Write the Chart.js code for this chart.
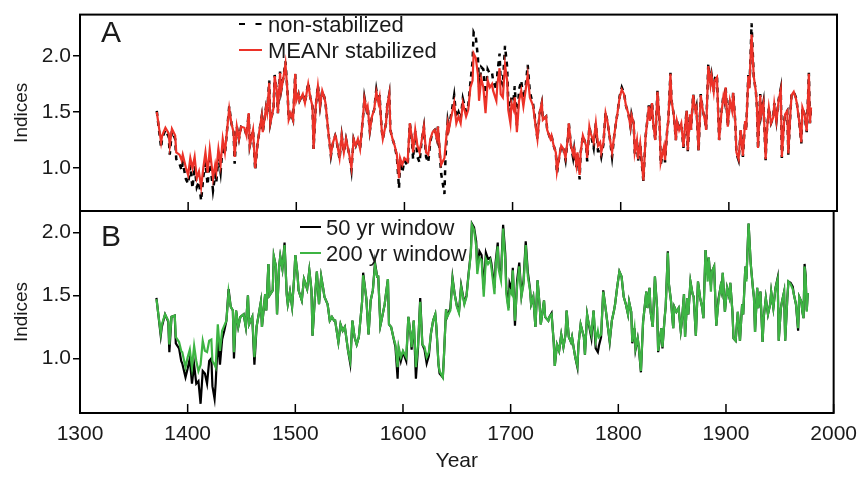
<!DOCTYPE html>
<html>
<head>
<meta charset="utf-8">
<script src="https://cdn.jsdelivr.net/npm/chart.js@4.4.1/dist/chart.umd.min.js"></script>
<style>
html,body{margin:0;padding:0;background:#fff;}
#wrap{position:relative;width:866px;height:479px;}
canvas{position:absolute;left:0;top:0;}
</style>
</head>
<body>
<div id="wrap">
<canvas id="chartA" width="866" height="479"></canvas>
<canvas id="chartB" width="866" height="479"></canvas>
</div>
<script>
// years (shared by all four series)
const years = [
1371,1375,1376,1379,1382,1383,1385,1388,1389,1392,
1394,1395,1398,1400,1402,1404,1406,1408,1410,1412,
1414,1416,1418,1420,1422,1423,1425,1426,1428,1430,
1432,1434,1436,1438,1440,1442,1443,1445,1447,1449,
1452,1454,1456,1457,1460,1462,1464,1466,1468,1469,
1472,1473,1475,1476,1479,1480,1482,1483,1485,1486,
1488,1490,1492,1493,1495,1497,1499,1500,1502,1503,
1506,1508,1511,1513,1515,1516,1518,1520,1522,1524,
1526,1527,1530,1532,1534,1536,1537,1540,1542,1544,
1546,1549,1551,1553,1555,1557,1559,1562,1563,1565,
1566,1568,1570,1572,1574,1576,1577,1579,1580,1583,
1584,1586,1587,1589,1591,1593,1595,1596,1598,1600,
1603,1605,1607,1608,1610,1612,1614,1616,1618,1620,
1622,1624,1626,1628,1630,1631,1633,1634,1637,1638,
1640,1641,1644,1646,1648,1650,1652,1654,1657,1659,
1661,1663,1664,1666,1668,1669,1671,1673,1675,1677,
1679,1681,1682,1685,1686,1688,1689,1691,1693,1695,
1696,1698,1699,1701,1702,1704,1706,1708,1710,1712,
1714,1716,1718,1719,1721,1723,1725,1727,1728,1731,
1732,1735,1736,1738,1740,1741,1743,1745,1747,1749,
1751,1752,1754,1756,1757,1759,1760,1762,1763,1765,
1768,1769,1771,1772,1775,1777,1779,1781,1782,1784,
1786,1788,1790,1792,1794,1796,1797,1799,1801,1803,
1805,1807,1809,1810,1812,1813,1815,1816,1818,1819,
1821,1823,1824,1826,1827,1829,1830,1832,1834,1836,
1837,1840,1841,1843,1844,1846,1847,1849,1851,1852,
1854,1856,1858,1859,1861,1862,1864,1865,1867,1869,
1870,1872,1874,1876,1878,1879,1881,1883,1884,1886,
1887,1889,1891,1893,1895,1896,1897,1899,1901,1903,
1904,1906,1907,1909,1911,1913,1915,1916,1918,1919,
1920,1921,1923,1925,1926,1927,1929,1930,1932,1934,
1935,1937,1939,1941,1942,1944,1946,1948,1949,1951,
1952,1954,1955,1957,1958,1960,1962,1963,1965,1967,
1968,1970,1971,1972,1973,1974,1975,1976
];

// panel A
const meanrStabilized = [
1.50,1.23,1.29,1.36,1.31,1.20,1.35,1.29,1.14,1.12,
1.07,1.12,1.00,0.94,1.09,1.00,1.10,0.91,0.97,0.83,
1.00,1.14,0.96,1.17,1.00,0.91,1.03,0.97,1.17,1.03,
1.26,1.14,1.34,1.53,1.40,1.32,1.10,1.37,1.26,1.37,
1.36,1.29,1.49,1.20,1.34,1.00,1.20,1.34,1.46,1.32,
1.54,1.49,1.76,1.40,1.54,1.82,1.69,1.49,1.85,1.69,
1.80,1.93,1.66,1.43,1.49,1.43,1.84,1.60,1.66,1.60,
1.66,1.58,1.75,1.63,1.55,1.17,1.55,1.73,1.55,1.69,
1.63,1.58,1.29,1.12,1.23,1.29,1.26,1.09,1.29,1.14,
1.26,1.12,1.00,1.26,1.20,1.26,1.17,1.49,1.62,1.52,
1.55,1.33,1.46,1.52,1.68,1.58,1.63,1.34,1.26,1.40,
1.55,1.66,1.34,1.26,1.20,1.12,0.91,1.09,1.03,1.09,
1.06,1.40,1.26,1.14,1.34,1.20,1.14,1.25,1.37,1.14,
1.12,1.26,1.32,1.34,1.26,1.37,1.12,1.03,1.09,1.20,
1.40,1.34,1.49,1.58,1.40,1.46,1.40,1.58,1.46,1.52,
1.72,1.78,2.02,1.98,1.83,1.60,1.80,1.72,1.49,1.78,
1.72,1.75,1.69,1.60,1.75,1.89,1.66,1.63,1.92,1.78,
1.52,1.40,1.58,1.52,1.63,1.32,1.60,1.69,1.55,1.69,
1.83,1.63,1.58,1.55,1.40,1.26,1.49,1.58,1.43,1.46,
1.34,1.26,1.29,1.20,1.14,0.97,1.09,1.20,1.17,1.09,
1.26,1.40,1.20,1.12,1.17,1.03,1.14,0.94,1.14,1.29,
1.20,1.09,1.37,1.32,1.23,1.40,1.20,1.23,1.14,1.23,
1.49,1.40,1.26,1.14,1.29,1.43,1.49,1.63,1.70,1.66,
1.55,1.49,1.37,1.47,1.40,1.14,1.25,1.08,1.22,1.11,
0.89,1.28,1.37,1.55,1.42,1.58,1.40,1.25,1.68,1.40,
1.05,1.19,1.07,1.34,1.42,1.84,1.60,1.48,1.25,1.42,
1.34,1.40,1.19,1.31,1.51,1.16,1.48,1.34,1.65,1.51,
1.54,1.16,1.65,1.51,1.42,1.34,1.91,1.74,1.82,1.68,
1.78,1.81,1.25,1.48,1.64,1.60,1.72,1.37,1.60,1.51,
1.67,1.40,1.14,1.08,1.34,1.11,1.42,1.34,1.82,1.71,
1.97,2.19,1.82,1.68,1.54,1.18,1.65,1.48,1.58,1.08,
1.31,1.54,1.40,1.45,1.57,1.42,1.60,1.70,1.10,1.40,
1.48,1.51,1.13,1.51,1.65,1.68,1.62,1.57,1.42,1.23,
1.54,1.48,1.40,1.33,1.57,1.84,1.40,1.54
];
const nonStabilized = [
1.51,1.18,1.27,1.34,1.28,1.12,1.33,1.26,1.08,1.04,
0.98,1.05,0.90,0.86,1.02,0.82,1.02,0.83,0.88,0.71,
0.92,1.05,0.85,1.08,0.90,0.80,0.94,0.87,1.10,0.96,
1.20,1.12,1.34,1.55,1.40,1.32,1.04,1.37,1.26,1.37,
1.36,1.29,1.49,1.20,1.34,0.98,1.20,1.34,1.46,1.32,
1.54,1.49,1.78,1.40,1.54,1.83,1.69,1.49,1.86,1.69,
1.80,1.95,1.66,1.43,1.49,1.43,1.84,1.60,1.66,1.60,
1.66,1.58,1.76,1.63,1.55,1.17,1.55,1.74,1.55,1.69,
1.63,1.58,1.29,1.11,1.23,1.29,1.26,1.08,1.29,1.14,
1.26,1.12,0.98,1.26,1.20,1.26,1.17,1.49,1.63,1.52,
1.55,1.33,1.46,1.52,1.70,1.58,1.65,1.34,1.26,1.40,
1.55,1.66,1.34,1.26,1.20,1.10,0.82,1.06,0.96,1.07,
1.02,1.40,1.24,1.08,1.33,1.10,1.05,1.25,1.37,1.10,
1.05,1.24,1.32,1.34,1.26,1.37,1.08,0.95,0.77,1.10,
1.42,1.36,1.52,1.65,1.45,1.50,1.44,1.62,1.50,1.56,
1.76,1.95,2.21,2.17,1.98,1.72,1.90,1.88,1.62,1.88,
1.84,1.85,1.78,1.70,1.85,2.02,1.78,1.74,2.09,1.90,
1.60,1.50,1.65,1.62,1.73,1.38,1.70,1.78,1.62,1.72,
1.92,1.68,1.60,1.57,1.42,1.26,1.49,1.58,1.43,1.46,
1.34,1.26,1.29,1.20,1.14,0.95,1.09,1.20,1.17,1.07,
1.26,1.40,1.20,1.09,1.17,1.01,1.14,0.90,1.14,1.29,
1.20,1.06,1.37,1.32,1.18,1.40,1.15,1.15,1.10,1.21,
1.50,1.40,1.26,1.10,1.29,1.43,1.49,1.64,1.72,1.67,
1.55,1.49,1.37,1.48,1.40,1.13,1.25,1.06,1.22,1.09,
0.88,1.28,1.37,1.56,1.42,1.59,1.40,1.25,1.69,1.40,
1.03,1.19,1.05,1.34,1.42,1.85,1.60,1.48,1.25,1.42,
1.34,1.40,1.18,1.31,1.52,1.15,1.48,1.34,1.66,1.51,
1.55,1.15,1.66,1.51,1.42,1.34,1.93,1.76,1.83,1.68,
1.80,1.83,1.25,1.49,1.65,1.60,1.73,1.37,1.61,1.51,
1.68,1.40,1.13,1.07,1.34,1.10,1.42,1.34,1.83,1.71,
1.98,2.29,1.82,1.68,1.54,1.17,1.66,1.48,1.59,1.07,
1.31,1.54,1.40,1.45,1.58,1.42,1.61,1.71,1.09,1.40,
1.48,1.51,1.12,1.51,1.66,1.68,1.63,1.57,1.42,1.22,
1.54,1.48,1.40,1.32,1.58,1.85,1.40,1.54
];

// panel B
const window200 = [
1.47,1.20,1.27,1.35,1.30,1.11,1.33,1.34,1.17,1.13,
1.06,1.05,0.93,1.01,1.07,0.93,1.10,0.98,0.90,0.95,
1.14,1.06,1.05,1.14,1.15,0.98,0.95,0.93,1.27,1.06,
1.22,1.26,1.30,1.53,1.41,1.38,1.05,1.38,1.25,1.33,
1.35,1.25,1.50,1.27,1.33,1.01,1.25,1.35,1.45,1.25,
1.51,1.38,1.75,1.50,1.54,1.81,1.73,1.35,1.73,1.81,
1.71,1.90,1.51,1.43,1.53,1.41,1.65,1.82,1.67,1.54,
1.46,1.63,1.55,1.70,1.54,1.18,1.46,1.69,1.43,1.65,
1.55,1.49,1.43,1.30,1.33,1.30,1.30,1.13,1.27,1.22,
1.25,1.06,0.98,1.30,1.17,1.11,1.17,1.45,1.66,1.54,
1.47,1.19,1.46,1.54,1.74,1.65,1.65,1.26,1.30,1.43,
1.50,1.63,1.27,1.25,1.17,1.11,0.93,1.09,1.01,1.06,
1.01,1.33,1.19,1.09,1.30,0.93,1.11,1.45,1.11,1.09,
1.01,1.05,1.20,1.30,1.35,1.25,0.95,0.90,0.85,1.01,
1.39,1.33,1.38,1.63,1.51,1.41,1.36,1.57,1.43,1.49,
1.67,1.83,2.06,2.02,1.89,1.67,1.80,1.78,1.49,1.79,
1.75,1.78,1.73,1.51,1.73,1.89,1.70,1.62,2.03,1.78,
1.51,1.38,1.54,1.51,1.70,1.30,1.57,1.73,1.49,1.59,
1.90,1.65,1.54,1.43,1.49,1.25,1.62,1.41,1.27,1.46,
1.33,1.30,1.33,1.35,1.13,0.94,1.11,1.06,1.19,1.09,
1.19,1.38,1.17,1.13,1.17,1.06,1.01,0.94,1.11,1.27,
1.17,1.03,1.35,1.30,1.19,1.38,1.14,1.22,1.17,1.19,
1.53,1.41,1.27,1.14,1.30,1.38,1.43,1.57,1.69,1.65,
1.49,1.43,1.35,1.45,1.37,1.13,1.24,1.08,1.16,1.10,
0.90,1.29,1.37,1.53,1.40,1.56,1.37,1.25,1.65,1.40,
1.06,1.24,1.09,1.32,1.41,1.84,1.59,1.45,1.24,1.41,
1.37,1.40,1.22,1.29,1.51,1.17,1.48,1.35,1.61,1.51,
1.49,1.18,1.61,1.48,1.40,1.32,1.86,1.61,1.80,1.53,
1.69,1.73,1.26,1.45,1.57,1.53,1.68,1.37,1.56,1.49,
1.60,1.37,1.16,1.14,1.37,1.14,1.43,1.35,1.73,1.61,
1.86,2.07,1.75,1.56,1.48,1.21,1.56,1.40,1.53,1.13,
1.32,1.48,1.35,1.43,1.53,1.40,1.56,1.63,1.14,1.40,
1.45,1.53,1.14,1.48,1.61,1.59,1.55,1.51,1.43,1.24,
1.49,1.45,1.37,1.32,1.73,1.64,1.37,1.52
];
const window50 = [
1.48,1.18,1.25,1.35,1.29,1.05,1.33,1.34,1.12,1.08,
0.98,0.96,0.85,0.92,1.00,0.80,0.95,0.80,0.82,0.64,
0.90,0.88,0.80,0.98,1.00,0.78,0.68,0.80,1.15,0.95,
1.15,1.22,1.30,1.55,1.41,1.38,1.00,1.38,1.25,1.33,
1.35,1.25,1.50,1.27,1.33,0.95,1.25,1.35,1.45,1.25,
1.51,1.38,1.75,1.50,1.54,1.81,1.73,1.35,1.73,1.81,
1.71,1.92,1.51,1.43,1.53,1.41,1.65,1.82,1.67,1.54,
1.46,1.63,1.55,1.70,1.54,1.18,1.46,1.69,1.43,1.65,
1.55,1.49,1.43,1.30,1.33,1.30,1.30,1.13,1.27,1.22,
1.25,1.06,0.96,1.30,1.17,1.11,1.17,1.45,1.68,1.54,
1.47,1.19,1.46,1.54,1.76,1.65,1.65,1.26,1.30,1.43,
1.50,1.63,1.27,1.25,1.17,1.09,0.84,1.07,0.98,1.05,
0.98,1.33,1.19,1.07,1.30,0.84,1.09,1.48,1.11,1.07,
0.96,1.02,1.20,1.30,1.35,1.25,0.95,0.88,0.85,1.01,
1.39,1.33,1.40,1.64,1.51,1.42,1.37,1.58,1.44,1.50,
1.68,1.84,2.07,2.04,1.93,1.70,1.85,1.82,1.55,1.84,
1.79,1.80,1.76,1.56,1.76,1.92,1.72,1.66,2.06,1.83,
1.55,1.40,1.60,1.55,1.72,1.26,1.62,1.76,1.50,1.62,
1.93,1.68,1.55,1.43,1.49,1.25,1.62,1.41,1.27,1.46,
1.33,1.30,1.33,1.36,1.13,0.94,1.11,1.06,1.19,1.09,
1.19,1.38,1.17,1.13,1.17,1.06,1.01,0.93,1.11,1.27,
1.17,1.03,1.35,1.30,1.16,1.38,1.08,1.05,1.10,1.17,
1.54,1.41,1.27,1.13,1.30,1.38,1.43,1.57,1.69,1.65,
1.49,1.43,1.35,1.45,1.37,1.12,1.24,1.07,1.16,1.09,
0.89,1.29,1.37,1.53,1.40,1.56,1.37,1.25,1.65,1.40,
1.05,1.24,1.08,1.32,1.41,1.85,1.59,1.45,1.24,1.41,
1.37,1.40,1.22,1.29,1.51,1.17,1.48,1.35,1.61,1.51,
1.49,1.18,1.61,1.48,1.40,1.32,1.86,1.66,1.80,1.58,
1.69,1.73,1.26,1.47,1.57,1.53,1.68,1.37,1.56,1.49,
1.60,1.37,1.16,1.14,1.37,1.14,1.43,1.35,1.73,1.63,
1.86,2.07,1.75,1.56,1.48,1.21,1.56,1.40,1.53,1.13,
1.32,1.48,1.35,1.43,1.53,1.40,1.56,1.64,1.14,1.40,
1.45,1.53,1.14,1.48,1.61,1.60,1.57,1.51,1.43,1.22,
1.49,1.45,1.37,1.32,1.75,1.66,1.38,1.52
];

const yearTicks = [1300, 1400, 1500, 1600, 1700, 1800, 1900, 2000];
const indexTicks = [1.0, 1.5, 2.0];

const FONT = '"Liberation Sans", Arial, Helvetica, sans-serif';
const TEXT = '#1a1a1a';
Chart.defaults.font.family = FONT;
Chart.defaults.font.size = 21;
Chart.defaults.color = TEXT;

function pts(vals) {
    return years.map((yr, i) => ({ x: yr, y: vals[i] }));
}

// frame, inward year ticks, panel letter and legend
const panelDecor = {
    id: 'panelDecor',
    afterDraw(chart, args, opts) {
        const ctx = chart.ctx;
        const a = chart.chartArea;
        const xs = chart.scales.x;
        ctx.save();
        ctx.strokeStyle = '#000';
        ctx.lineWidth = 2;
        ctx.strokeRect(a.left, a.top, a.right - a.left, a.bottom - a.top);

        ctx.lineWidth = 1.5;
        yearTicks.forEach(t => {
            const x = xs.getPixelForValue(t);
            ctx.beginPath();
            ctx.moveTo(x, a.bottom);
            ctx.lineTo(x, a.bottom - 9);
            ctx.stroke();
        });

        ctx.fillStyle = TEXT;
        ctx.textBaseline = 'alphabetic';
        ctx.font = '30px ' + FONT;
        ctx.fillText(opts.letter, opts.letterX, opts.letterBase);

        ctx.font = '22px ' + FONT;
        opts.rows.forEach((r, k) => {
            const ds = chart.data.datasets[r];
            const y = opts.legendY + k * 26;
            ctx.strokeStyle = ds.borderColor;
            ctx.lineWidth = 2;
            ctx.setLineDash(ds.borderDash ? [6, 10.5] : []);
            ctx.beginPath();
            ctx.moveTo(opts.lineX0, y);
            ctx.lineTo(opts.lineX1, y);
            ctx.stroke();
            ctx.setLineDash([]);
            ctx.fillText(ds.label, opts.textX, y + 7.5);
        });
        ctx.restore();
    }
};

function makePanel(id, datasets, yMin, yMax, showYears, padding, decor) {
    return new Chart(document.getElementById(id), {
        type: 'line',
        data: { datasets: datasets },
        options: {
            responsive: false,
            animation: false,
            events: [],
            layout: { padding: padding },
            elements: { point: { radius: 0 }, line: { tension: 0 } },
            plugins: {
                legend: { display: false },
                tooltip: { enabled: false },
                panelDecor: decor
            },
            scales: {
                x: {
                    type: 'linear',
                    min: 1300,
                    max: 2000,
                    display: showYears,
                    afterBuildTicks: s => { s.ticks = yearTicks.map(v => ({ value: v })); },
                    afterFit: s => { s.height = showYears ? 66 : 0; },
                    grid: { display: false, drawTicks: false },
                    border: { display: false },
                    ticks: { padding: 9, maxRotation: 0, font: { size: 21 }, callback: v => String(v) },
                    title: { display: showYears, text: 'Year', font: { size: 21 }, padding: { top: 0, bottom: 5 } }
                },
                y: {
                    min: yMin,
                    max: yMax,
                    afterBuildTicks: s => { s.ticks = indexTicks.map(v => ({ value: v })); },
                    afterFit: s => { s.width = 80; },
                    grid: { drawOnChartArea: false, drawTicks: true, tickLength: 7, color: '#000', lineWidth: 1.5 },
                    border: { display: true, color: '#000', width: 2 },
                    ticks: { padding: 2, font: { size: 21 }, callback: v => v.toFixed(1) },
                    title: { display: true, text: 'Indices', font: { size: 19 }, padding: { top: 10, bottom: 0 } }
                }
            }
        },
        plugins: [panelDecor]
    });
}

makePanel('chartA', [
    { label: 'MEANr stabilized', data: pts(meanrStabilized), borderColor: '#ec3228', borderWidth: 2.2 },
    { label: 'non-stabilized', data: pts(nonStabilized), borderColor: '#000', borderWidth: 2.5, borderDash: [5, 5] }
], 0.618, 2.368, false, { left: 0, top: 8, right: 29, bottom: 268 },
   { letter: 'A', letterX: 101, letterBase: 42, rows: [1, 0], legendY: 24, lineX0: 239, lineX1: 262, textX: 268 });

makePanel('chartB', [
    { label: '200 yr window', data: pts(window200), borderColor: '#3db443', borderWidth: 2.2 },
    { label: '50 yr window', data: pts(window50), borderColor: '#000', borderWidth: 2.2 }
], 0.567, 2.17, true, { left: 0, top: 211, right: 29, bottom: 0 },
   { letter: 'B', letterX: 101, letterBase: 246, rows: [1, 0], legendY: 227, lineX0: 300, lineX1: 321, textX: 326 });
</script>
</body>
</html>
